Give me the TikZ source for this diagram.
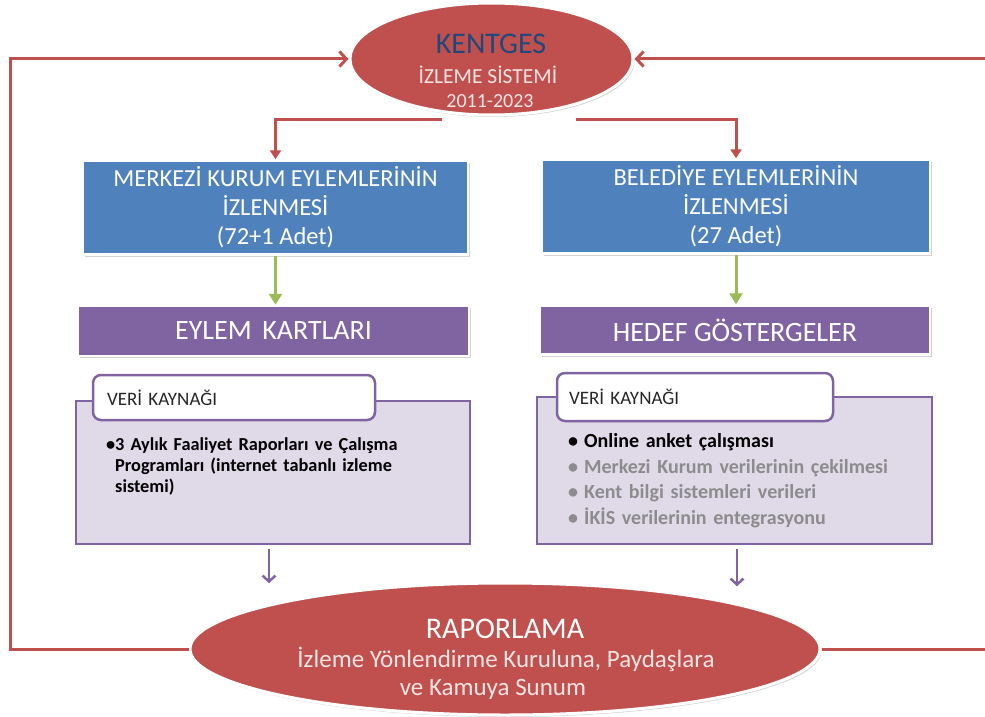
\documentclass[tikz,border=0pt]{standalone}
\usepackage{fontspec}
\setmainfont{Carlito}
\usetikzlibrary{shapes.geometric,arrows.meta,shadows}
\definecolor{cred}{HTML}{C0504D}
\definecolor{cblue}{HTML}{4F81BD}
\definecolor{cpurple}{HTML}{8064A2}
\definecolor{cgreen}{HTML}{9BBB59}
\definecolor{clilac}{HTML}{E0D9E8}
\definecolor{cdblue}{HTML}{1F497D}
\definecolor{cpink}{HTML}{F6E4E4}
\definecolor{cgrey}{HTML}{8C8C8C}
\begin{document}
\begin{tikzpicture}[x=1pt,y=-1pt,
  shad/.style={drop shadow={opacity=0.35,shadow xshift=1.5pt,shadow yshift=-2pt}},
  oval/.style={ellipse, fill=cred, draw=white, line width=3pt, inner sep=0pt, shad},
  bluebox/.style={rectangle, fill=cblue, draw=white, line width=2.5pt, inner sep=0pt, shad,
    text=white, align=center, font=\fontsize{24.5}{29}\selectfont},
  purbox/.style={rectangle, fill=cpurple, draw=white, line width=2.5pt, inner sep=0pt, shad,
    text=white, font=\fontsize{28}{32}\selectfont},
  srcbox/.style={rectangle, fill=clilac, draw=cpurple, line width=2.5pt, inner sep=0pt},
  tabbox/.style={rectangle, rounded corners=8pt, fill=white, draw=cpurple, line width=2.5pt,
    inner xsep=14pt, inner ysep=0pt, text=black!85, align=left, font=\fontsize{19}{22}\selectfont},
  redln/.style={draw=cred, line width=3pt},
  barb/.style={-{Straight Barb[length=7pt,width=15pt]}},
  tri/.style={-{Triangle[length=9pt,width=11pt]}},
  grnarrow/.style={draw=cgreen, line width=3pt, -{Triangle[length=11pt,width=13pt]}},
  purarrow/.style={draw=cpurple, line width=2.5pt, -{Straight Barb[length=6pt,width=13pt]}},
  ovtext/.style={anchor=base, inner sep=0pt},
]
\useasboundingbox (0,0) rectangle (985,717);

% ellipses
\node[oval, minimum width=283pt, minimum height=112pt] (kentges) at (491.5,59) {};
\node[ovtext, text=cdblue, font=\fontsize{30}{32}\selectfont] (kt1) at (491,54) {KENTGES};
\node[ovtext, text=cpink, font=\fontsize{21.5}{24}\selectfont] (kt2) at (488,83) {İZLEME SİSTEMİ};
\node[ovtext, text=cpink, font=\fontsize{20}{24}\selectfont] (kt3) at (490,107) {2011-2023};

\node[oval, minimum width=630pt, minimum height=132pt] (rapor) at (505,649) {};
\node[ovtext, text=white, font=\fontsize{30}{32}\selectfont] (rt1) at (505,638) {RAPORLAMA};
\node[ovtext, text=cpink, font=\fontsize{25}{28}\selectfont] (rt2) at (506,667) {İzleme Yönlendirme Kuruluna, Paydaşlara};
\node[ovtext, text=cpink, font=\fontsize{25}{28}\selectfont] (rt3) at (493,695) {ve Kamuya Sunum};

% blue boxes
\node[bluebox, minimum width=385pt, minimum height=94pt] (blueL) at (275.5,207.5)
  {MERKEZİ KURUM EYLEMLERİNİN\\İZLENMESİ\\(72+1 Adet)};
\node[bluebox, minimum width=388pt, minimum height=94pt] (blueR) at (736,206.5)
  {BELEDİYE EYLEMLERİNİN\\İZLENMESİ\\(27 Adet)};

% purple boxes
\node[purbox, minimum width=391pt, minimum height=50pt] (purL) at (273.5,331) {EYLEM\hspace{0.15em} KARTLARI};
\node[purbox, minimum width=390pt, minimum height=49pt] (purR) at (735,330) {HEDEF GÖSTERGELER};

% data source boxes
\node[srcbox, minimum width=394pt, minimum height=143pt] (boxL) at (273,472.5) {};
\node[srcbox, minimum width=395pt, minimum height=147pt] (boxR) at (734.5,470.5) {};
\node[tabbox, minimum width=282pt, minimum height=45pt, text width=254pt] (tabL) at (234,397.5) {VERİ KAYNAĞI};
\node[tabbox, minimum width=276pt, minimum height=48pt, text width=252pt, inner xsep=12pt] (tabR) at (695,397) {VERİ KAYNAĞI};

\node[anchor=north west, inner sep=0pt, align=left, text width=320pt, text=black,
  font=\bfseries\fontsize{18.3}{21}\selectfont] (srcL) at (115,437)
  {\llap{•}3 Aylık Faaliyet Raporları ve Çalışma\\Programları (internet tabanlı izleme\\sistemi)};
\node[anchor=north west, inner sep=0pt, align=left, text width=340pt,
  font=\bfseries\fontsize{20}{25.8}\selectfont] (srcR) at (584,433)
  {\llap{•\hspace{6pt}}Online anket çalışması\\
   \textcolor{cgrey}{\llap{•\hspace{6pt}}Merkezi Kurum verilerinin çekilmesi}\\
   \textcolor{cgrey}{\llap{•\hspace{6pt}}Kent bilgi sistemleri verileri}\\
   \textcolor{cgrey}{\llap{•\hspace{6pt}}İKİS verilerinin entegrasyonu}};

% connectors
\coordinate (cl1) at (10,649);
\coordinate (cl2) at (10,59);
\coordinate (cr1) at (985,650);
\coordinate (cr2) at (985,59);
\coordinate (fl) at (442,119);
\coordinate (fr) at (576,119);

\draw[redln, barb] (rapor.west) -- (cl1) -- (cl2) -- (kentges.west);
\draw[redln] (rapor.east) -- (rapor.east -| cr1);
\draw[redln, barb] (cr2) -- (kentges.east);
\draw[redln, tri] (fl) -| (blueL.north);
\draw[redln, tri] (fr) -| (blueR.north);

\draw[grnarrow] (blueL.south) -- (blueL.south |- purL.north);
\draw[grnarrow] (blueR.south) -- (blueR.south |- purR.north);

\draw[purarrow] ([xshift=-4pt,yshift=-4pt]boxL.south) -- ++(0,34);
\draw[purarrow] ([xshift=2.5pt,yshift=-4pt]boxR.south) -- ++(0,37);
\end{tikzpicture}
\end{document}
